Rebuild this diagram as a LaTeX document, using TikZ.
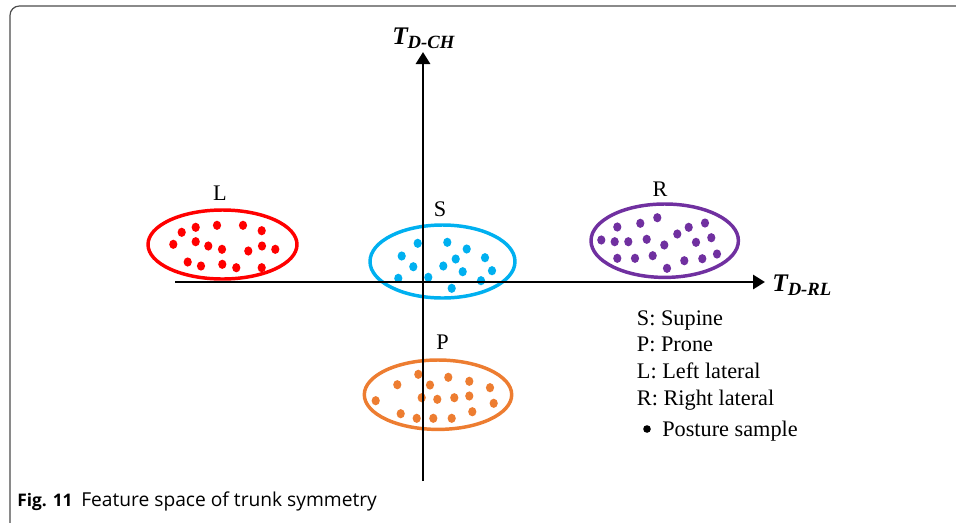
\documentclass[tikz,border=0pt]{standalone}
\usepackage{fontspec}
\setmainfont{Liberation Serif}
\newfontfamily\capfont{Open Sans}
\usetikzlibrary{arrows.meta}
\definecolor{postred}{HTML}{FF0000}
\definecolor{postblue}{HTML}{00B0F0}
\definecolor{postpurple}{HTML}{7030A0}
\definecolor{postorange}{HTML}{ED7D31}
\newcommand{\axname}[1]{{\fontsize{19}{19}\selectfont\bfseries\itshape T}%
  \raisebox{-3pt}{\fontsize{14}{14}\selectfont\bfseries\itshape #1}}

\begin{document}
\begin{tikzpicture}[
  x=0.75pt, y=-0.75pt,
  >={Triangle[length=9pt, width=10.5pt]},
  axis/.style={->, line width=2.2pt},
  ring/.style={draw=#1, line width=2.6pt},
  sample/.style={fill=#1},
  lbl/.style={font=\fontsize{16.7}{20}\selectfont, inner sep=0pt},
  leg/.style={lbl, anchor=base west},
  frame/.style={draw=black!70, line width=0.9pt, rounded corners=7pt},
  captext/.style={anchor=base west, inner sep=0pt, font=\capfont\fontsize{14.4}{16}\selectfont},
]
\useasboundingbox (0,0) rectangle (956,522);
\clip (0,0) rectangle (956,522);

%% ===== FRAME =====
\draw[frame] (960,6) -| (10,532) -- (30,532);

%% ===== CLUSTERS =====

% L: left lateral
\draw[ring=postred] (222.5,244.5) ellipse [x radius=74.5, y radius=34.5];
\foreach \x/\y in {181.7/232.3, 195.7/227.3, 217/225.3, 243/225.3, 261.7/230.7,
    173.3/244.3, 195.7/241.7, 208.3/246, 222/249.3, 248.3/251, 262/246, 275.3/249.3,
    187.7/262, 201/266, 222.3/264.3, 236.3/267.7, 261.7/267.7}
  \fill[sample=postred] (\x,\y) ellipse [x radius=4.1, y radius=4.6];
\node[lbl] (lname) at (220,193) {L};

% S: supine
\draw[ring=postblue] (442.5,261.5) ellipse [x radius=72.5, y radius=36.5];
\foreach \x/\y in {417.7/243.3, 447.3/242.3, 466.7/249, 401.7/256, 455.7/259, 485/257.7,
    413.3/266.7, 443.3/266, 462.7/271.7, 492/270.7, 398.3/278.3, 428.3/277.3,
    481/280.7, 451.7/288.3}
  \fill[sample=postblue] (\x,\y) ellipse [x radius=4.1, y radius=4.6];
\node[lbl] (sname) at (440,209) {S};

% R: right lateral
\draw[ring=postpurple] (664.7,240.7) ellipse [x radius=73.7, y radius=36.7];
\foreach \x/\y in {657.3/217.7, 617.3/227, 640.3/223.3, 688.7/227.3, 705/223, 677.3/234,
    601.3/240, 614.7/241.7, 628.3/241.7, 646.7/239.3, 664.3/245, 696/242.3, 711.3/237.7,
    617.3/258.3, 635/258.3, 652.7/255.7, 684.3/260.7, 702.3/258.7, 717/254, 667/268.3}
  \fill[sample=postpurple] (\x,\y) ellipse [x radius=4.1, y radius=4.6];
\node[lbl] (rname) at (660,189) {R};

% P: prone
\draw[ring=postorange] (438,394.7) ellipse [x radius=73.7, y radius=34.7];
\foreach \x/\y in {418.3/374.3, 397.3/384.7, 430/385, 448.3/377.3, 469.3/381.3, 490/387.7,
    375.7/400.7, 421.7/397.7, 437.3/399.3, 454.3/397.7, 469.3/396, 493.7/403.3,
    400.7/413.7, 416.7/418.3, 433.3/418.3, 451.7/418.3, 472.3/411.7}
  \fill[sample=postorange] (\x,\y) ellipse [x radius=4.1, y radius=4.6];
\node[lbl] (pname) at (442.5,342.5) {P};

%% ===== AXES =====

\coordinate (xfrom) at (175,282);
\coordinate (xto)   at (765,282);
\coordinate (yfrom) at (423,481);
\coordinate (yto)   at (423,52);

\draw[axis] (xfrom) -- (xto);
\draw[axis] (yfrom) -- (yto);

\node[anchor=base west, inner sep=0pt] (rlaxis) at (772,291) {\axname{D-RL}};
\node[anchor=base west, inner sep=0pt] (chaxis) at (392,44)  {\axname{D-CH}};

%% ===== LEGEND =====

\node[leg] (legs) at (636.7,325)   {S: Supine};
\node[leg] (legp) at (636.7,351.7) {P: Prone};
\node[leg] (legl) at (636.7,378.3) {L: Left lateral};
\node[leg] (legr) at (636.7,405)   {R: Right lateral};
\fill (647,429) circle [radius=3.8];
\node[leg] (legdot) at (662,436) {Posture sample};

%% ===== CAPTION =====

\node[captext, font=\capfont\fontsize{13}{16}\selectfont\bfseries] (figno) at (17,506) {Fig. 11};
\node[captext] (figtext) at (81,506) {Feature space of trunk symmetry};

\end{tikzpicture}
\end{document}
